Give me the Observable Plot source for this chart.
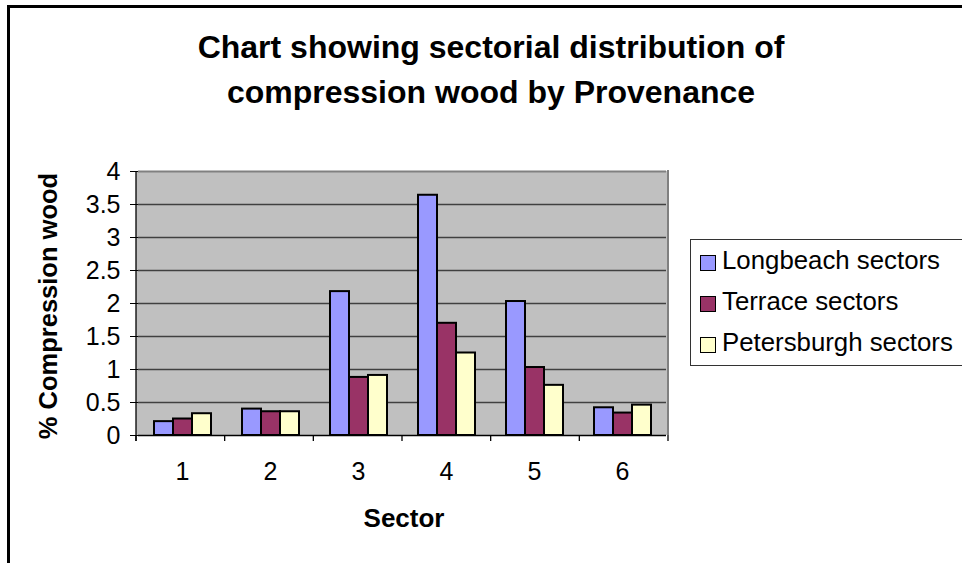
<!DOCTYPE html>
<html>
<head>
<meta charset="utf-8">
<script src="https://cdn.jsdelivr.net/npm/d3@7"></script>
<script src="https://cdn.jsdelivr.net/npm/@observablehq/plot@0.6"></script>
<style>
  html, body { margin: 0; padding: 0; background: #fff; }
  #page { position: relative; width: 962px; height: 563px; overflow: hidden; font-family: "Liberation Sans", Arial, sans-serif; color: #000; }
  #border { position: absolute; left: 7px; top: 5px; width: 1200px; height: 900px; border-top: 3px solid #000; border-left: 3px solid #000; }
  #title { position: absolute; left: 0; width: 982px; top: 25px; text-align: center; font-weight: bold; font-size: 32px; line-height: 45px; }
  #chart { position: absolute; left: 0; top: 130px; }
  #ytitle { position: absolute; left: 48px; top: 306px; transform: translate(-50%, -50%) rotate(-90deg); font-weight: bold; font-size: 25.5px; white-space: nowrap; }
  #xtitle { position: absolute; left: 404px; top: 518px; transform: translate(-50%, -50%); font-weight: bold; font-size: 26px; white-space: nowrap; }
  #legend { position: absolute; left: 690px; top: 239px; width: 320px; height: 125px; border: 1.5px solid #333; background: #fff; }
  .item { position: absolute; left: 9px; height: 30px; display: flex; align-items: center; font-size: 25.8px; white-space: nowrap; }
  .sw { width: 14px; height: 14px; border: 1.5px solid #000; margin-right: 6px; margin-top: 5px; }
</style>
</head>
<body>
<div id="page">
  <div id="border"></div>
  <div id="title"></div>
  <div id="chart"></div>
  <div id="ytitle"></div>
  <div id="xtitle"></div>
  <div id="legend"></div>
</div>
<script>
const titleLines = ["Chart showing sectorial distribution of", "compression wood by Provenance"];
const yTitle = "% Compression wood";
const xTitle = "Sector";
const sectors = ["1", "2", "3", "4", "5", "6"];
const seriesNames = ["Longbeach sectors", "Terrace sectors", "Petersburgh sectors"];
const longbeach = [0.21, 0.40, 2.18, 3.64, 2.03, 0.42];
const terrace = [0.25, 0.36, 0.88, 1.70, 1.03, 0.34];
const petersburgh = [0.33, 0.36, 0.91, 1.25, 0.76, 0.46];
const seriesColors = ["#9999FF", "#993366", "#FFFFCC"];
const yTicks = [0, 0.5, 1, 1.5, 2, 2.5, 3, 3.5, 4];
const yTickLabels = ["0", "0.5", "1", "1.5", "2", "2.5", "3", "3.5", "4"];

const seriesValues = [longbeach, terrace, petersburgh];
const data = [];
sectors.forEach((s, i) => {
  seriesNames.forEach((n, j) => data.push({sector: s, series: n, value: seriesValues[j][i]}));
});

document.getElementById("title").innerHTML = titleLines.join("<br>");
document.getElementById("ytitle").textContent = yTitle;
document.getElementById("xtitle").textContent = xTitle;

const legend = document.getElementById("legend");
seriesNames.forEach((n, j) => {
  const it = document.createElement("div");
  it.className = "item";
  it.style.top = (5 + j * 41) + "px";
  const sw = document.createElement("div");
  sw.className = "sw";
  sw.style.background = seriesColors[j];
  const tx = document.createElement("span");
  tx.textContent = n;
  it.appendChild(sw); it.appendChild(tx);
  legend.appendChild(it);
});

const chart = Plot.plot({
  width: 962,
  height: 433,
  marginTop: 41,
  marginBottom: 128,
  marginLeft: 136,
  marginRight: 294,
  style: {fontFamily: "'Liberation Sans', Arial, sans-serif", fontSize: "25px", background: "transparent", overflow: "visible", color: "#000"},
  fx: {domain: sectors, padding: 0, label: null, axis: "bottom", tickSize: 0, tickPadding: 27},
  x: {domain: seriesNames, paddingInner: 0, paddingOuter: 0.77, axis: null},
  y: {domain: [0, 4], ticks: yTicks, tickFormat: (d) => yTickLabels[yTicks.indexOf(d)], tickSize: 8, tickPadding: 10, label: null},
  color: {domain: seriesNames, range: seriesColors},
  marks: [
    Plot.ruleY(yTicks.slice(1, -1), {stroke: "#404040", strokeWidth: 1.3}),
    Plot.ruleY([4], {stroke: "#808080", strokeWidth: 2}),
    Plot.barY(data, {fx: "sector", x: "series", y: "value", fill: "series", stroke: "#000", strokeWidth: 2}),
    Plot.ruleY([0], {stroke: "#000", strokeWidth: 1.3})
  ]
});
document.getElementById("chart").appendChild(chart);

// Plot-area background, category boundary ticks, left axis line and right border, from the fx and y scales
const fxS = chart.scale("fx");
const yS = chart.scale("y");
const r0 = Math.min(...fxS.range), r1 = Math.max(...fxS.range);
const step = (r1 - r0) / sectors.length;
const y0 = yS.apply(0), y4 = yS.apply(4);
const svg = d3.select(chart.tagName.toLowerCase() === "svg" ? chart : chart.querySelector("svg"));
const firstG = svg.node().querySelector("g");
svg.insert("rect", () => firstG).attr("x", r0).attr("y", y4).attr("width", r1 - r0).attr("height", y0 - y4).attr("fill", "#C0C0C0");
const g = svg.append("g");
d3.range(sectors.length + 1).forEach(i => {
  g.append("line").attr("x1", r0 + i * step).attr("x2", r0 + i * step).attr("y1", y0).attr("y2", y0 + 6)
    .attr("stroke", "#000").attr("stroke-width", 1.3);
});
g.append("line").attr("x1", r1).attr("x2", r1).attr("y1", y4 - 1).attr("y2", y0).attr("stroke", "#808080").attr("stroke-width", 2);
g.append("line").attr("x1", r0).attr("x2", r0).attr("y1", y4).attr("y2", y0 + 6).attr("stroke", "#000").attr("stroke-width", 1.3);
</script>
</body>
</html>
